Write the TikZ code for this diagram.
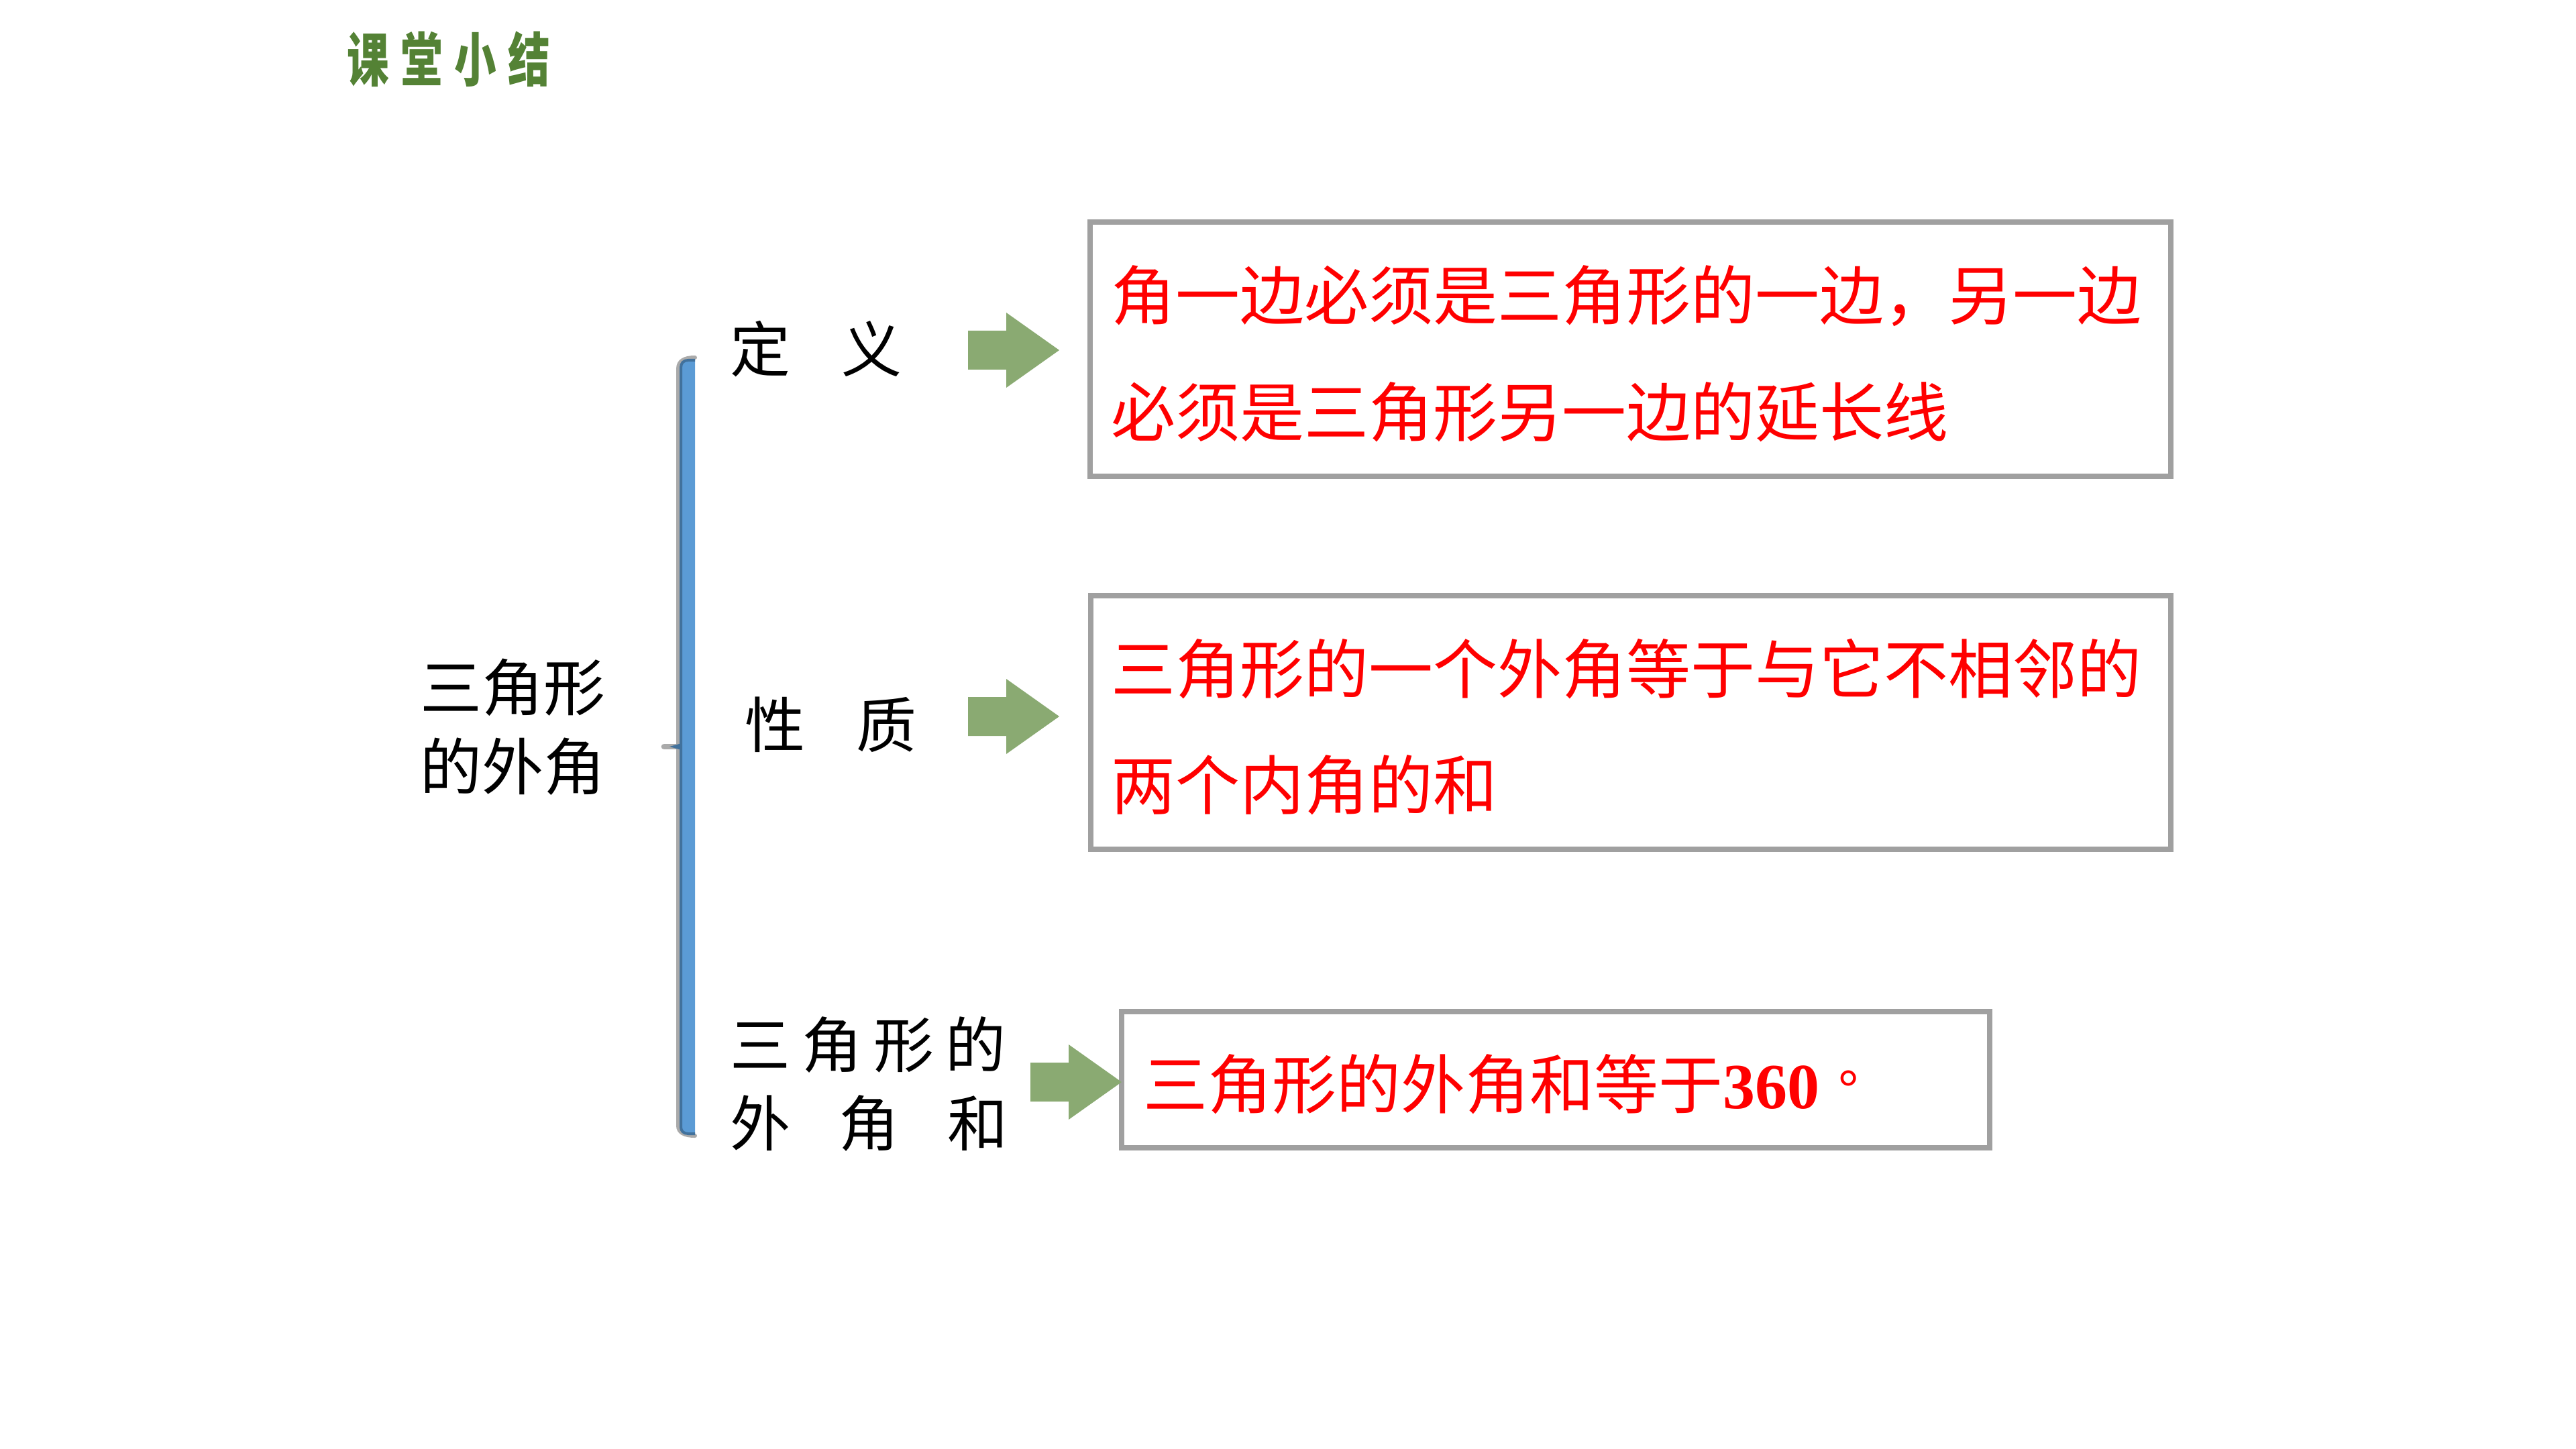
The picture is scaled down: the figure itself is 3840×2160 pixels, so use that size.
\documentclass[tikz,border=0pt]{standalone}
\usepackage{fontspec}
\setmainfont{Noto Sans CJK SC}
\newfontfamily\numfont{Liberation Serif}
\newfontfamily\titlefont[FakeStretch=0.72]{Noto Sans CJK SC}
\definecolor{titlegreen}{RGB}{84,130,53}
\definecolor{arrowgreen}{RGB}{138,170,114}
\definecolor{boxgray}{RGB}{160,160,160}
\definecolor{braceblue}{RGB}{91,155,213}
\definecolor{bracedark}{RGB}{65,113,156}
\definecolor{bracegray}{RGB}{170,170,170}
\definecolor{redtxt}{RGB}{255,0,0}
\begin{document}
\begin{tikzpicture}[x=0.25pt,y=-0.25pt,
  lbl/.style={inner sep=0pt, text=black, font=\fontsize{22.5pt}{29.25pt}\selectfont},
  redtext/.style={inner sep=0pt, text=redtxt, anchor=west, align=left, font=\fontsize{24pt}{43.5pt}\selectfont},
  infobox/.style={draw=boxgray, line width=1.875pt, rectangle, inner sep=0pt, fill=white},
  blockarr/.pic={\fill[arrowgreen] (-136,-29) -- (-79,-29) -- (-79,-56) -- (0,0) -- (-79,56) -- (-79,29) -- (-136,29) -- cycle;}
]
\useasboundingbox[fill=white] (0,0) rectangle (3840,2160);

% title
\node[inner sep=0pt, anchor=west, text=titlegreen, font=\titlefont\bfseries\fontsize{21.75pt}{24pt}\selectfont] (title) at (517,88) {课\hspace{4.35pt}堂\hspace{4.35pt}小\hspace{4.35pt}结};

% left label
\node[lbl, align=center, font=\fontsize{23pt}{29.5pt}\selectfont] (main) at (764,1084) {三角形\\的外角};

% bracket
\draw[bracegray, line width=1.5pt, line cap=round, line join=round]
  (1036,533) .. controls (1020,533) and (1011,538) .. (1011,550) -- (1011,1678) .. controls (1011,1688) and (1020,1693) .. (1036,1693);
\draw[bracegray, line width=2.2pt, line cap=round] (1011,1113) -- (990,1113);
\fill[braceblue] (1036,537) -- (1026,537) .. controls (1019,537) and (1015,541) .. (1015,548) -- (1015,1680) .. controls (1015,1686) and (1019,1690) .. (1026,1690) -- (1036,1690) -- cycle;
\draw[bracedark, line width=1pt] (1036,537) -- (1026,537) .. controls (1019,537) and (1015,541) .. (1015,548) -- (1015,1680) .. controls (1015,1686) and (1019,1690) .. (1026,1690) -- (1036,1690);
\fill[bracedark] (1016,1108) -- (998,1113) -- (1016,1118) -- cycle;

% branch labels
\node[lbl, anchor=west] (def) at (1088,520) {定\hspace{19pt}义};
\node[lbl, anchor=west] (prop) at (1110,1080) {性\hspace{19pt}质};
\node[lbl, anchor=west, align=left] (sum) at (1088,1616) {三\hspace{4.25pt}角\hspace{4.25pt}形\hspace{4.25pt}的\\外\hspace{18pt}角\hspace{18pt}和};

% arrows
\pic (a1) at (1579,522) {blockarr};
\pic (a2) at (1579,1068) {blockarr};

% boxes
\node[infobox, minimum width=402.75pt, minimum height=94.75pt] (b1) at (2430.5,520.5) {};
\node[infobox, minimum width=402.5pt, minimum height=94.5pt] (b2) at (2431,1077) {};
\node[infobox, minimum width=323.5pt, minimum height=50.75pt] (b3) at (2319,1609.5) {};

\pic (a3) at (1672,1613) {blockarr};

\node[redtext] (t1) at (1656,527) {角一边必须是三角形的一边，另一边\\必须是三角形另一边的延长线};
\node[redtext, font=\fontsize{24pt}{43.25pt}\selectfont] (t2) at (1656,1084) {三角形的一个外角等于与它不相邻的\\两个内角的和};
\node[redtext] (t3) at (1704,1616) {三角形的外角和等于{\numfont\bfseries 360\hspace{7pt}\raisebox{1.5pt}{\fontsize{19pt}{20pt}\selectfont °}}};
\end{tikzpicture}
\end{document}
